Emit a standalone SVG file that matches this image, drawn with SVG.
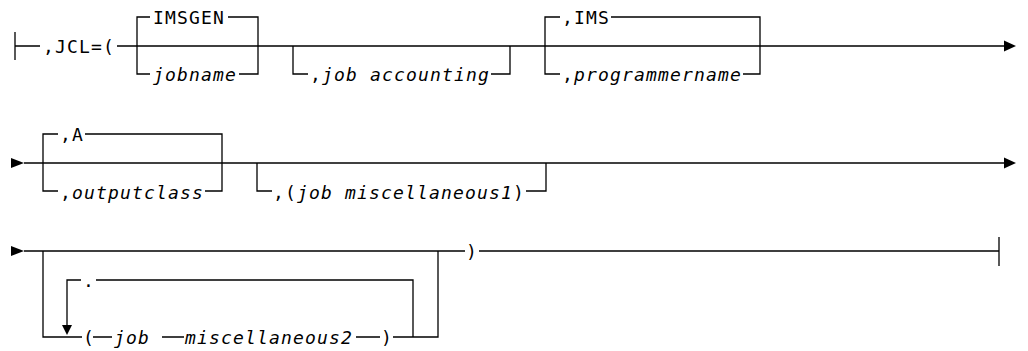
<svg xmlns="http://www.w3.org/2000/svg" width="1028" height="351" viewBox="0 0 1028 351">
<style>
.ln{stroke:#000;stroke-width:1.3;fill:none}
.ah{fill:#000;stroke:none}
.t{font-family:"DejaVu Sans Mono","Liberation Mono",monospace;font-size:18px;letter-spacing:1.16px;fill:#000}
.i{font-style:italic}
</style>
<rect width="1028" height="351" fill="#fff"/>
<g id="connectors">
<path class="ln" d="M15,32V60M15,46H40M117,46H1004"/>
<path class="ln" d="M150,17H137V74H150M228,17H258V74H239"/>
<path class="ln" d="M293,46V74H308M491,74H510V46"/>
<path class="ln" d="M560,17H545V74H560M611,17H760V74H743"/>
<polygon class="ah" points="1004,40.5 1016,46 1004,51.5"/>
<polygon class="ah" points="11,158 24,163 11,168"/>
<path class="ln" d="M24,163H1004"/>
<path class="ln" d="M58,134H43V191H58M85,134H222V191H205"/>
<path class="ln" d="M257,163V191H272M526,191H546V163"/>
<polygon class="ah" points="1004,157.5 1016,163 1004,168.5"/>
<polygon class="ah" points="11,246 24,251 11,256"/>
<path class="ln" d="M24,251H465M479,251H999M999,237V266"/>
<path class="ln" d="M43,251V337H82M93,337H112M162,337H184M356,337H380M393,337H438V251"/>
<path class="ln" d="M413,337V280H96M81,280H67V325"/>
<polygon class="ah" points="62,325 72,325 67,335"/>
</g>
<g id="jcl"><text class="t" x="43" y="52.5">,JCL=(</text></g>
<g id="imsgen"><text class="t" x="153" y="23.5">IMSGEN</text></g>
<g id="jobname"><text class="t i" x="153" y="80.5">jobname</text></g>
<g id="jobacct"><text class="t" x="310" y="80.5">,<tspan class="i">job accounting</tspan></text></g>
<g id="ims"><text class="t" x="562" y="23.5">,IMS</text></g>
<g id="progname"><text class="t" x="562" y="80.5">,<tspan class="i">programmername</tspan></text></g>
<g id="classA"><text class="t" x="60" y="140.5">,A</text></g>
<g id="outclass"><text class="t" x="60" y="198.5">,<tspan class="i">outputclass</tspan></text></g>
<g id="misc1"><text class="t" x="273" y="198.5">,(<tspan class="i">job miscellaneous1</tspan>)</text></g>
<g id="close"><text class="t" x="466" y="257.5">)</text></g>
<g id="sep"><text class="t" x="83" y="286.5">.</text></g>
<g id="lparen"><text class="t" x="83" y="343.5">(</text></g>
<g id="job"><text class="t i" x="114" y="343.5">job</text></g>
<g id="misc2"><text class="t i" x="185" y="343.5">miscellaneous2</text></g>
<g id="rparen"><text class="t" x="381" y="343.5">)</text></g>
</svg>
